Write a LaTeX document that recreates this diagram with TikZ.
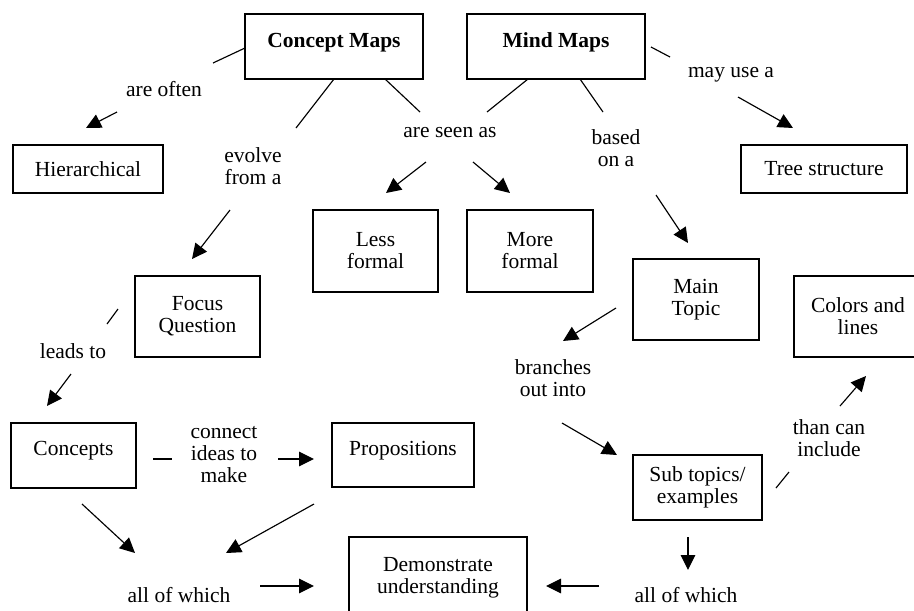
\documentclass[tikz,border=0pt]{standalone}
\usepackage{fontspec}
\setmainfont{Liberation Serif}
\usetikzlibrary{arrows.meta}
\begin{document}
\begin{tikzpicture}[x=1pt,y=-1pt,
  box/.style={draw, line width=1.1pt, inner sep=0pt, align=center, font=\fontsize{21.5}{22}\selectfont},
  lab/.style={inner sep=0pt, align=center, font=\fontsize{21.5}{22}\selectfont},
  conn/.style={line width=1.15pt},
  arr/.style={conn, -{Triangle[length=15pt,width=14.5pt]}}]
\useasboundingbox (0,0) rectangle (914,611);
\clip (0,0) rectangle (914,611);
% boxes
\node[box, minimum width=178pt, minimum height=65pt] (cm) at (334,46.5) {\raisebox{4pt}[\height][\depth]{\textbf{Concept Maps}}};
\node[box, minimum width=178pt, minimum height=65pt] (mm) at (556,46.5) {\raisebox{4pt}[\height][\depth]{\textbf{Mind Maps}}};
\node[box, minimum width=150pt, minimum height=48pt] (hier) at (88,169) {Hierarchical};
\node[box, minimum width=166pt, minimum height=48pt] (tree) at (824,169) {Tree structure};
\node[box, minimum width=125pt, minimum height=82pt] (less) at (375.5,251) {Less\\formal};
\node[box, minimum width=126pt, minimum height=82pt] (more) at (530,251) {More\\formal};
\node[box, minimum width=125pt, minimum height=81pt] (focus) at (197.5,316.5) {Focus\\Question};
\node[box, minimum width=126pt, minimum height=81pt] (main) at (696,299.5) {Main\\Topic};
\node[box, minimum width=128pt, minimum height=81pt] (colors) at (858,316.5) {Colors and\\lines};
\node[box, minimum width=125pt, minimum height=65pt] (concepts) at (73.5,455.5) {\raisebox{4.5pt}[\height][\depth]{Concepts}};
\node[box, minimum width=142pt, minimum height=64pt] (props) at (403,455) {\raisebox{4.5pt}[\height][\depth]{Propositions}};
\node[box, minimum width=129pt, minimum height=65pt] (sub) at (697.5,487.5) {Sub topics/\\examples};
\node[box, minimum width=178pt, minimum height=81pt] (demo) at (438,577.5) {Demonstrate\\understanding};
% labels
\node[lab] (areoften) at (164,89) {are often};
\node[lab] (evolve) at (253,166) {evolve\\from a};
\node[lab] (seenas) at (450,133) {are seen as};
\node[lab] (based) at (616,148) {based\\on a};
\node[lab] (mayuse) at (731,75) {may use a};
\node[lab] (leads) at (73,351) {leads to};
\node[lab] (branches) at (553,378) {branches\\out into};
\node[lab] (thancan) at (829,438) {than can\\include};
\node[lab] (connect) at (224,455) {connect\\ideas to\\make};
\node[lab] (allL) at (179,595) {all of which};
\node[lab] (allR) at (686,595) {all of which};
% connector end points
\coordinate (a1) at (245,48);  \coordinate (a2) at (213,63);
\coordinate (a3) at (117,112); \coordinate (a4) at (86,128);
\coordinate (b1) at (334,79);  \coordinate (b2) at (296,128);
\coordinate (b3) at (230,210); \coordinate (b4) at (192,259);
\coordinate (c1) at (385,79);  \coordinate (c2) at (420,112);
\coordinate (c3) at (426,162); \coordinate (c4) at (386,193);
\coordinate (d1) at (528,79);  \coordinate (d2) at (487,112);
\coordinate (d3) at (473,162); \coordinate (d4) at (510,193);
\coordinate (e1) at (580,79);  \coordinate (e2) at (603,112);
\coordinate (e3) at (656,195); \coordinate (e4) at (688,243);
\coordinate (f1) at (651,47);  \coordinate (f2) at (670,57);
\coordinate (f3) at (738,97);  \coordinate (f4) at (793,128);
\coordinate (g1) at (118,309); \coordinate (g2) at (107,324);
\coordinate (g3) at (71,374);  \coordinate (g4) at (47,406);
\coordinate (h1) at (616,308); \coordinate (h2) at (563,341);
\coordinate (h3) at (562,423); \coordinate (h4) at (617,455);
\coordinate (i1) at (776,488); \coordinate (i2) at (789,472);
\coordinate (i3) at (840,406); \coordinate (i4) at (866,376);
\coordinate (j1) at (153,459); \coordinate (j2) at (172,459);
\coordinate (j3) at (278,459); \coordinate (j4) at (314,459);
\coordinate (k1) at (82,504);  \coordinate (k2) at (135,553);
\coordinate (l1) at (314,504); \coordinate (l2) at (226,553);
\coordinate (m1) at (260,586); \coordinate (m2) at (314,586);
\coordinate (n1) at (688,537); \coordinate (n2) at (688,570);
\coordinate (o1) at (599,586); \coordinate (o2) at (546,586);
% connectors
\draw[conn] (a1) -- (a2); \draw[arr] (a3) -- (a4);
\draw[conn] (b1) -- (b2); \draw[arr] (b3) -- (b4);
\draw[conn] (c1) -- (c2); \draw[arr] (c3) -- (c4);
\draw[conn] (d1) -- (d2); \draw[arr] (d3) -- (d4);
\draw[conn] (e1) -- (e2); \draw[arr] (e3) -- (e4);
\draw[conn] (f1) -- (f2); \draw[arr] (f3) -- (f4);
\draw[conn] (g1) -- (g2); \draw[arr] (g3) -- (g4);
\draw[arr] (h1) -- (h2);  \draw[arr] (h3) -- (h4);
\draw[conn] (i1) -- (i2); \draw[arr] (i3) -- (i4);
\draw[conn] (j1) -- (j2); \draw[arr] (j3) -- (j4);
\draw[arr] (k1) -- (k2);
\draw[arr] (l1) -- (l2);
\draw[arr] (m1) -- (m2);
\draw[arr] (n1) -- (n2);
\draw[arr] (o1) -- (o2);
\end{tikzpicture}
\end{document}
